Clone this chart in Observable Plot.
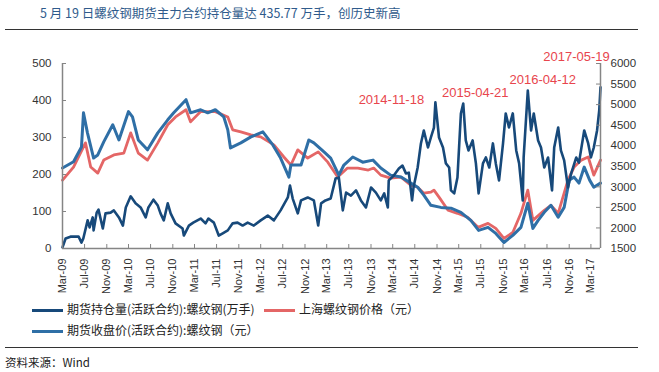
<!DOCTYPE html>
<html><head><meta charset="utf-8">
<script src="https://cdn.jsdelivr.net/npm/d3@7"></script>
<script src="https://cdn.jsdelivr.net/npm/@observablehq/plot@0.6"></script>
<style>
html,body{margin:0;padding:0;background:#fff;}
#wrap{position:relative;width:659px;height:372px;overflow:hidden;font-family:"Noto Sans CJK SC","Liberation Sans",sans-serif;}
.abs{position:absolute;white-space:nowrap;}
.lg{font-size:12px;color:#222;line-height:14px;}
.sw{position:absolute;height:3px;width:31px;}
</style></head>
<body><div id="wrap">
<div class="abs" style="left:40px;top:4px;font-size:12.5px;color:#2f5b8c;line-height:18px;">5 月 19 日螺纹钢期货主力合约持仓量达 435.77 万手，创历史新高</div>
<div class="abs" style="left:5px;top:29px;width:633px;height:1px;background:#333;"></div>
<div id="chart" class="abs" style="left:0;top:30px;"></div>
<div id="legend"></div>
<div class="abs" style="left:5px;top:347px;width:633px;height:1px;background:#333;"></div>
<div class="abs" style="left:5px;top:354px;font-size:11.5px;color:#222;line-height:16px;">资料来源：Wind</div>
</div>
<script>
// ---- data ----
const oiDates = ["2009-03-27","2009-04-13","2009-05-10","2009-06-24","2009-07-10","2009-07-20","2009-08-13","2009-08-24","2009-09-10","2009-09-15","2009-10-02","2009-10-12","2009-11-05","2009-11-20","2009-12-18","2010-01-05","2010-02-02","2010-02-24","2010-03-12","2010-04-08","2010-05-05","2010-06-02","2010-06-30","2010-07-15","2010-08-12","2010-09-05","2010-09-20","2010-10-08","2010-10-30","2010-11-15","2010-12-12","2011-01-20","2011-01-27","2011-02-24","2011-03-20","2011-04-30","2011-05-27","2011-06-12","2011-07-12","2011-08-08","2011-08-30","2011-09-27","2011-10-24","2011-11-20","2011-12-18","2012-01-15","2012-02-18","2012-03-27","2012-05-05","2012-06-08","2012-07-15","2012-08-24","2012-09-05","2012-09-20","2012-10-18","2012-11-05","2012-12-12","2013-01-15","2013-02-08","2013-02-24","2013-03-20","2013-04-18","2013-05-15","2013-06-02","2013-06-24","2013-07-12","2013-08-08","2013-09-05","2013-10-02","2013-10-30","2013-11-27","2013-12-24","2014-01-20","2014-02-08","2014-02-28","2014-03-05","2014-04-02","2014-04-30","2014-05-20","2014-06-08","2014-06-24","2014-07-12","2014-07-20","2014-08-12","2014-08-30","2014-09-15","2014-10-08","2014-10-24","2014-11-10","2014-11-18","2014-12-08","2014-12-30","2015-01-15","2015-02-02","2015-02-12","2015-03-02","2015-03-20","2015-04-08","2015-04-21","2015-05-05","2015-05-20","2015-06-12","2015-06-30","2015-07-15","2015-08-08","2015-08-24","2015-09-12","2015-10-02","2015-10-18","2015-11-05","2015-11-27","2015-12-12","2015-12-30","2016-01-20","2016-02-08","2016-02-24","2016-03-15","2016-03-20","2016-04-12","2016-04-30","2016-05-15","2016-06-08","2016-06-24","2016-07-12","2016-08-02","2016-08-24","2016-09-05","2016-09-27","2016-10-12","2016-10-30","2016-11-20","2016-12-08","2017-01-05","2017-01-20","2017-02-18","2017-03-12","2017-03-27","2017-04-12","2017-04-30","2017-05-12","2017-05-19"];
const oiValues = [3,27,32,32,16,27,76,57,84,49,97,105,54,95,97,103,84,62,111,141,122,111,84,111,132,116,95,76,122,95,68,54,35,62,70,81,68,81,70,35,41,49,68,70,62,70,62,76,89,76,103,138,170,135,95,130,138,130,62,122,130,135,189,192,103,151,143,157,130,111,165,151,130,149,111,184,197,216,224,203,205,130,165,219,284,319,273,300,327,395,300,273,230,219,157,149,192,365,392,292,265,292,230,149,230,246,219,284,230,184,284,365,327,365,265,230,130,246,427,319,365,292,273,219,246,157,273,327,265,238,165,203,246,232,319,284,246,273,319,373,435.77];

const closeDates = ["2009-03-27","2009-05-27","2009-07-10","2009-07-21","2009-08-12","2009-09-15","2009-10-08","2009-11-10","2009-12-30","2010-02-02","2010-03-27","2010-04-18","2010-05-20","2010-07-10","2010-09-05","2010-10-30","2010-12-02","2011-02-08","2011-03-05","2011-04-30","2011-06-08","2011-07-20","2011-09-05","2011-09-27","2011-10-12","2011-12-08","2012-02-02","2012-04-08","2012-06-02","2012-07-15","2012-08-30","2012-09-10","2012-11-05","2012-12-18","2013-01-15","2013-03-12","2013-04-18","2013-06-02","2013-06-30","2013-08-18","2013-10-12","2013-12-08","2014-01-20","2014-03-15","2014-05-12","2014-07-05","2014-08-12","2014-09-15","2014-10-24","2014-12-18","2015-02-12","2015-04-08","2015-06-02","2015-07-15","2015-09-05","2015-10-18","2015-12-02","2016-01-20","2016-03-05","2016-04-12","2016-05-10","2016-06-08","2016-07-12","2016-08-18","2016-09-27","2016-10-30","2016-11-27","2016-12-24","2017-01-20","2017-02-18","2017-03-20","2017-04-12","2017-05-19"];
const closeValues = [3457,3610,3970,4800,4313,3700,3775,4093,4510,4140,4830,4700,4140,3900,4313,4630,4800,5120,4800,4875,4800,4875,4700,4386,3946,4070,4215,4337,4020,3700,3237,3530,3530,4140,4070,3850,3700,3285,3530,3726,3600,3650,3457,3285,3237,3090,2990,2800,2550,2500,2480,2380,2185,1940,2014,1867,1647,1820,2014,2600,1990,2185,2380,2550,2260,2500,3163,3237,3090,3481,3163,2990,3090];

const spotDates = ["2009-03-27","2009-05-27","2009-08-01","2009-08-30","2009-10-08","2009-11-10","2010-01-05","2010-03-01","2010-04-08","2010-05-20","2010-07-10","2010-09-05","2010-10-30","2010-12-12","2011-02-08","2011-03-05","2011-04-30","2011-07-20","2011-09-27","2011-10-24","2011-12-08","2012-02-02","2012-03-27","2012-06-08","2012-08-02","2012-09-10","2012-10-18","2012-12-12","2013-02-08","2013-04-02","2013-05-27","2013-07-20","2013-09-15","2013-11-12","2013-12-12","2014-01-20","2014-03-15","2014-05-12","2014-07-05","2014-08-12","2014-09-15","2014-10-24","2014-11-10","2014-12-08","2015-01-27","2015-03-20","2015-05-15","2015-07-12","2015-09-05","2015-10-18","2015-12-02","2016-01-20","2016-03-05","2016-04-12","2016-05-10","2016-07-12","2016-08-18","2016-09-27","2016-11-20","2016-12-24","2017-02-02","2017-03-12","2017-04-12","2017-05-19"];
const spotValues = [3163,3481,4070,3481,3334,3650,3775,3820,4313,3820,3650,4070,4510,4700,4875,4580,4830,4830,4700,4386,4337,4264,4215,4020,3726,3530,3900,3700,3850,3600,3237,3457,3457,3408,3457,3285,3212,3237,3040,2990,2845,2870,2920,2750,2430,2356,2260,2014,2110,1990,1745,1890,2356,2920,2185,2430,2550,2356,3163,3481,3650,3726,3285,3650];

const leftTicks = [0,100,200,300,400,500];
const rightTicks = [1500,2000,2500,3000,3500,4000,4500,5000,5500,6000];
const xTickLabels = ["Mar-09","Jul-09","Nov-09","Mar-10","Jul-10","Nov-10","Mar-11","Jul-11","Nov-11","Mar-12","Jul-12","Nov-12","Mar-13","Jul-13","Nov-13","Mar-14","Jul-14","Nov-14","Mar-15","Jul-15","Nov-15","Mar-16","Jul-16","Nov-16","Mar-17"];
const annoDates = ["2014-11-18","2015-04-21","2016-04-12","2017-05-19"];
const annoValues = [395,392,427,435.77];

const seriesNames = ["期货持仓量(活跃合约):螺纹钢(万手)","上海螺纹钢价格（元）","期货收盘价(活跃合约):螺纹钢（元）"];
const colors = {oi:"#17497a", spot:"#e46666", close:"#2f6fa6"};

// ---- build ----
const pd = d3.utcParse("%Y-%m-%d");
const zip = (ds, vs) => ds.map((d,i)=>({date:pd(d), v:vs[i]}));
const oi = zip(oiDates, oiValues), close = zip(closeDates, closeValues), spot = zip(spotDates, spotValues);
const toLeft = p => (p - 1500) / 9;
const xDomain = [pd(oiDates[0]), pd(oiDates[oiDates.length-1])];
const xTicks = xTickLabels.map(s => { const t = d3.utcParse("%b-%y")(s); return new Date(Date.UTC(t.getUTCFullYear(), t.getUTCMonth(), 27)); });
const annos = annoDates.map((d,i)=>({date:pd(d), v:annoValues[i], label:d}));

const W = 659, H = 268, mt = 33, mb = 50, ml = 62, mr = 59;
const pw = W - ml - mr, ph = H - mt - mb;
const axisColor = "#858585";
const red = "#e8454d";
const annoOffsets = [[-44,-3],[12,-11],[15,-11],[-24,-30]];

const marks = [
  Plot.lineY(spot, {x:"date", y:d=>toLeft(d.v), stroke:colors.spot, strokeWidth:2.8}),
  Plot.lineY(close, {x:"date", y:d=>toLeft(d.v), stroke:colors.close, strokeWidth:3}),
  Plot.lineY(oi, {x:"date", y:"v", stroke:colors.oi, strokeWidth:2.6}),
  Plot.ruleY([0], {stroke:axisColor, strokeWidth:1.5}),
  Plot.ruleX([xDomain[0], xDomain[1]], {stroke:axisColor, strokeWidth:1.5}),
  Plot.tickY(leftTicks, {y:d=>d, stroke:axisColor, insetRight:pw-4}),
  Plot.tickY(rightTicks, {y:d=>toLeft(d), stroke:axisColor, insetLeft:pw-4}),
  Plot.tickX(xTicks, {x:d=>d, stroke:axisColor, insetTop:ph-4}),
  Plot.axisY({anchor:"left", ticks:leftTicks, tickSize:0, tickPadding:11, fontSize:11.5, fill:"#333", label:null}),
  Plot.axisY({anchor:"right", ticks:rightTicks.map(toLeft), tickFormat:v=>String(Math.round(1500+9*v)), tickSize:0, tickPadding:10, fontSize:11.5, fill:"#333", label:null}),
  Plot.axisX({ticks:xTicks, tickFormat:d3.utcFormat("%b-%y"), tickRotate:-90, tickSize:0, tickPadding:10, fontSize:11, fill:"#333", label:null}),
  ...annos.map((a,i)=>Plot.text([a], {x:"date", y:"v", text:"label", dx:annoOffsets[i][0], dy:annoOffsets[i][1], fill:red, fontSize:13, fontFamily:"Liberation Sans"}))
];

const chart = Plot.plot({
  width:W, height:H, marginTop:mt, marginBottom:mb, marginLeft:ml, marginRight:mr,
  style:{fontFamily:"Liberation Sans, Arial, sans-serif", background:"transparent", overflow:"visible"},
  x:{type:"utc", domain:xDomain},
  y:{domain:[0,500]},
  marks
});
document.getElementById("chart").appendChild(chart);

// legend
const lg = document.getElementById("legend");
const items = [
  {name:seriesNames[0], color:colors.oi, x:32, y:310},
  {name:seriesNames[1], color:colors.spot, x:264, y:310},
  {name:seriesNames[2], color:colors.close, x:32, y:331}
];
items.forEach(it=>{
  const s = document.createElement("div"); s.className="sw";
  s.style.left = it.x+"px"; s.style.top = (it.y-1.5)+"px"; s.style.background = it.color;
  lg.appendChild(s);
  const t = document.createElement("div"); t.className="abs lg";
  t.style.left = (it.x+35)+"px"; t.style.top = (it.y-8)+"px"; t.textContent = it.name;
  lg.appendChild(t);
});
</script>
</body></html>
